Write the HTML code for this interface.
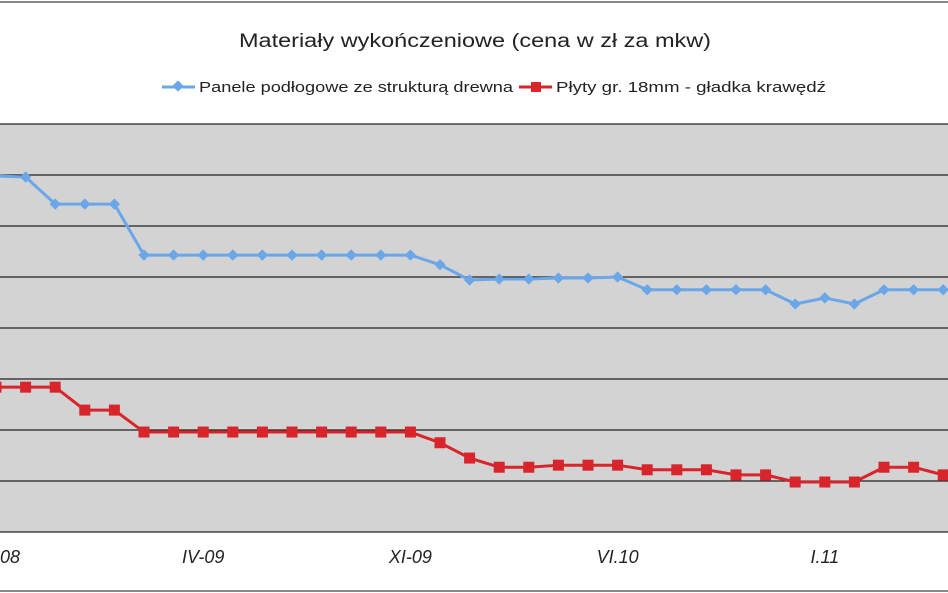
<!DOCTYPE html>
<html><head><meta charset="utf-8"><style>
body{margin:0;background:#fff;}
svg{display:block;font-family:"Liberation Sans",sans-serif;}
</style></head><body>
<svg id="chart" width="948" height="593" viewBox="0 0 948 593" xmlns="http://www.w3.org/2000/svg">
<rect x="0" y="0" width="948" height="593" fill="#fff"/>
<g id="plot"></g>
<line x1="0" y1="2" x2="948" y2="2" stroke="#888" stroke-width="2"/>
<line x1="0" y1="591" x2="948" y2="591" stroke="#888" stroke-width="2"/>
<text x="475" y="47" text-anchor="middle" font-size="19" fill="#222" textLength="472" lengthAdjust="spacingAndGlyphs">Materiały wykończeniowe (cena w zł za mkw)</text>
<g>
 <g>
  <line x1="162" y1="87" x2="195" y2="87" stroke="#6aa6e8" stroke-width="3"/>
  <rect x="174" y="82" width="8" height="8" fill="#6aa6e8" transform="rotate(45 178 86)"/>
  <text x="199" y="92" font-size="15" fill="#222" textLength="314" lengthAdjust="spacingAndGlyphs">Panele podłogowe ze strukturą drewna</text>
 </g>
 <g>
  <line x1="519" y1="87" x2="552" y2="87" stroke="#d8252b" stroke-width="3"/>
  <rect x="531" y="82" width="10" height="10" fill="#d8252b"/>
  <text x="556" y="92" font-size="15" fill="#222" textLength="270" lengthAdjust="spacingAndGlyphs">Płyty gr. 18mm - gładka krawędź</text>
 </g>
</g>
</svg>
<script>
const xTickLabels = ["XII-08","IV-09","XI-09","VI.10","I.11"];
const xTickIndex = [0,7,14,21,28];
const panele = [69.8,69.6,64.3,64.3,64.3,54.3,54.3,54.3,54.3,54.3,54.3,54.3,54.3,54.3,54.3,52.4,49.4,49.6,49.6,49.8,49.8,50.0,47.5,47.5,47.5,47.5,47.5,44.7,45.9,44.7,47.5,47.5,47.5];
const plyty = [28.4,28.4,28.4,23.9,23.9,19.6,19.6,19.6,19.6,19.6,19.6,19.6,19.6,19.6,19.6,17.5,14.5,12.7,12.7,13.1,13.1,13.1,12.2,12.2,12.2,11.2,11.2,9.8,9.8,9.8,12.7,12.7,11.2];
const yTicks = [0,10,20,30,40,50,60,70,80];

{
const NS="http://www.w3.org/2000/svg";
const plot=document.getElementById('plot');
const plotTop=124,plotBottom=532,yMin=0,yMax=80;
const x0=-4,step=29.6;
function xScale(i){return x0+i*step;}
function yScale(v){return plotBottom-(v-yMin)/(yMax-yMin)*(plotBottom-plotTop);}
function mk(tag,attrs){const e=document.createElementNS(NS,tag);for(const k in attrs)e.setAttribute(k,attrs[k]);return e;}

const bg=mk('rect',{x:0,y:plotTop,width:948,height:plotBottom-plotTop,fill:'#d3d3d3'});


plot.appendChild(bg);
yTicks.forEach(t=>{
 const l=mk('line',{x1:0,x2:948,y1:yScale(t),y2:yScale(t),stroke:'#222','stroke-width':1.3});
 
 
 plot.appendChild(l);
});
xTickLabels.forEach((lab,k)=>{
 const t=mk('text',{x:xScale(xTickIndex[k]),y:563,'text-anchor':'middle','font-size':18,'font-style':'italic',fill:'#222'});
 t.textContent=lab;
 
 
 plot.appendChild(t);
});
function series(vals,color,shape,name){
 const g=mk('g',{});
 
 
 const pts=vals.map((v,i)=>xScale(i)+','+yScale(v)).join(' ');
 g.appendChild(mk('polyline',{points:pts,fill:'none',stroke:color,'stroke-width':3,'stroke-linejoin':'round'}));
 vals.forEach((v,i)=>{
  const cx=xScale(i),cy=yScale(v);
  let m;
  if(shape==='diamond'){m=mk('rect',{x:cx-4,y:cy-4,width:8,height:8,fill:color,transform:'rotate(45 '+cx+' '+cy+')'});}
  else{m=mk('rect',{x:cx-5.5,y:cy-5.5,width:11,height:11,fill:color});}
  
  
  g.appendChild(m);
 });
 plot.appendChild(g);
}
series(panele,'#6aa6e8','diamond','series-panele');
series(plyty,'#d8252b','square','series-plyty');
}
</script>
</body></html>
